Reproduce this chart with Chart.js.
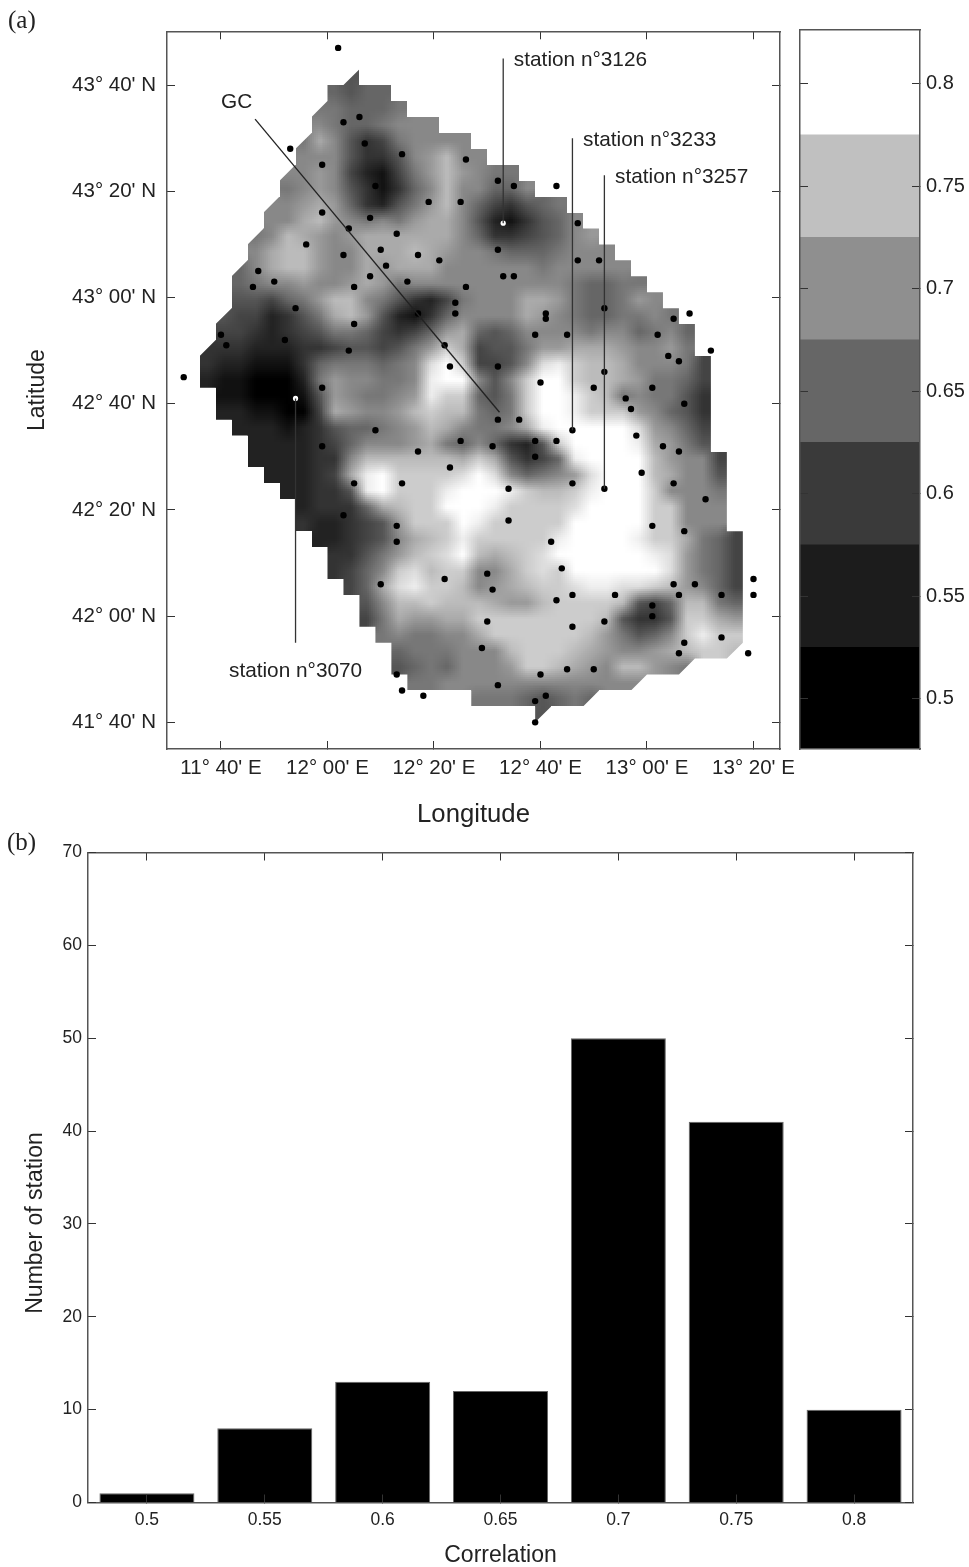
<!DOCTYPE html>
<html>
<head>
<meta charset="utf-8">
<title>Correlation map and histogram</title>
<script src="https://cdn.jsdelivr.net/npm/chart.js@4/dist/chart.umd.min.js"></script>
<style>
  body { margin: 0; background: #fff; width: 969px; height: 1567px; position: relative; overflow: hidden; }
  canvas { position: absolute; }
  .panel { position: absolute; font: 25px "Liberation Serif", serif; color: #222; }
</style>
</head>
<body>
<canvas id="mapChart" width="969" height="830" style="left:0;top:0"></canvas>
<canvas id="barChart" width="969" height="739" style="left:0;top:828px"></canvas>
<canvas id="scaleChart" width="189" height="830" style="left:780px;top:0"></canvas>
<div class="panel" style="left:8px;top:6px">(a)</div>
<div class="panel" style="left:7px;top:828px">(b)</div>
<script>
// Map axes are in arc minutes counted from 11 40 E and 41 40 N
const lonTicks = [0, 20, 40, 60, 80, 100];
const lonLabels = ["11° 40' E", "12° 00' E", "12° 20' E", "12° 40' E", "13° 00' E", "13° 20' E"];
const latTicks = [0, 20, 40, 60, 80, 100, 120];
const latLabels = ["41° 40' N", "42° 00' N", "42° 20' N", "42° 40' N", "43° 00' N", "43° 20' N", "43° 40' N"];

// Shaded map, 3 minute cells, one hex digit of grey per cell, first column of each row in gridStart
const gridStart = [9,8,7,7,6,6,5,5,4,4,3,3,2,2,2,1,1,0,0,0,1,1,2,3,3,4,5,6,6,7,8,8,9,10,10,11,12,12,13,17,21];
const gridRows = [
  "5",
  "6566",
  "776667",
  "87667888",
  "7a853478888",
  "888533589b88",
  "8898421479b9877",
  "7898531368b88668",
  "889a9632579b8643567",
  "88ab987879aa85213568",
  "78ba989aaaaaa863345689",
  "8abb988aaaba98876667888",
  "68abb988a9aaa888888788888",
  "67889889a97888888888876677",
  "554679bb8753247888aa9766798",
  "5442357ab9521368888a987667787",
  "443234577643469a65688887886786",
  "333222334554579ca455799aaa98897",
  "32211136777678dfc4458decbba88874",
  "21100027988778eff858cffcbba97764",
  "1100015987789ecc657cffecb787753",
  "2211004a9889bcbb767cffeccc98653",
  "222123566789ba8778aefffffd9864",
  "22223468889a7686325cffffea975",
  "2222338bbbbbbaca5346effffb9884",
  "22234aefccccdfd86789dfffba885",
  "22335efcccefffecbbcefffc8887",
  "23336abccfffeccccdffffcc888",
  "3223459cccfecccccfffffcc888",
  "223458abceccccceffffecca764",
  "33579bcdfbabcdffffffed9764",
  "3468cdbcc88acdcffffffd9764",
  "46adeccb89abccdeeddcb9864",
  "58bbcbbba99bccccb546bb76",
  "47a99aaccccccccb5335cca9",
  "787788accccccb97568cecc",
  "6777888bcccba9889abccb",
  "56768889ccba98bb987",
  "778888888888888",
  "77765676",
  "5"
];
const cutUpperLeft = [[0,9],[2,7],[4,6],[6,5],[8,4],[10,3],[12,2],[15,1],[17,0]];
const cutLowerRight = [[36,33],[37,30],[38,27],[39,24],[40,21]];

// Stations
const stationLon = [22,23,26,13,27,34,46,19,29,39,45,19,28,24,33,16,30,23,37,41,31,7,28,10,35,6,25,46,44,14,44,37,25,0,1,12,42,24,43,-7,19,
  52,55,63,67,52,67,71,53,55,61,61,72,85,88,59,65,82,92,84,86,52,72,60,70,81,
  29,45,19,37,43,25,34,23,33,33,30,42,33,34,38,
  76,87,77,52,56,66,78,51,59,63,83,86,59,79,66,85,54,72,91,54,81,87,62,64,50,51,100,85,89,63,66,74,86,94,100,81,81,50,66,72,94,87,49,86,99,60,65,70,52,61,59,59];
const stationLat = [127,113,114,108,109,107,106,105,101,98,98,96,95,93,92,90,89,88,88,87,86,85,84,83,83,82,82,82,79,78,77,77,75,73,71,72,71,70,67,65,63,
  102,101,101,94,89,87,87,84,84,77,76,78,76,77,73,73,73,70,69,68,67,66,64,63,63,
  55,53,52,51,48,45,45,39,37,34,26,27,9,6,5,
  61,60,59,57,57,55,54,52,53,53,52,51,50,47,45,45,44,44,42,38,37,36,34,29,28,25,27,26,26,23,24,24,24,24,24,22,20,19,18,19,16,15,14,13,13,9,10,10,7,5,4,0];
const markedLon = [53, 14];
const markedLat = [94, 61];

const stationLineLon = [[53,53],[66,66],[72,72],[14,14]];
const stationLineLat = [[125,94],[110,55],[103,44],[61,15]];
const gcLon = [6.4, 52.3];
const gcLat = [113.6, 58.4];
const mapTexts = ["station n°3126", "station n°3233", "station n°3257", "station n°3070", "GC"];
const mapTextLon = [55, 68, 74, 1.5, 0];
const mapTextLat = [124.7, 109.7, 102.7, 9.6, 116.8];

// Colour scale
const bandLow = [0.475, 0.525, 0.575, 0.625, 0.675, 0.725, 0.775];
const bandHigh = [0.525, 0.575, 0.625, 0.675, 0.725, 0.775, 0.826];
const bandColors = ['#000000', '#1c1c1c', '#3a3a3a', '#666666', '#8f8f8f', '#c0c0c0', '#ffffff'];
const scaleTicks = [0.5, 0.55, 0.6, 0.65, 0.7, 0.75, 0.8];

// Histogram
const categories = ['0.5', '0.55', '0.6', '0.65', '0.7', '0.75', '0.8'];
const stationCounts = [1, 8, 13, 12, 50, 41, 10];

const FONT = '"Liberation Sans", Arial, sans-serif';
const FRAME = '#555';
const TICK = '#333';
const INK = '#222';
Chart.defaults.font.family = FONT;
Chart.defaults.color = INK;
Chart.defaults.animation = false;

function grid() {
  return { drawOnChartArea: false, tickLength: -8, color: TICK, lineWidth: 1, z: 1 };
}
function border() {
  return { color: FRAME, width: 1.5, z: 1 };
}
function setTicks(values) {
  return s => { s.ticks = values.map(v => ({ value: v })); };
}

// cells go in a dataset, the plugin below paints them through the scales
const mapCells = [];
gridRows.forEach((row, r) => {
  [...row].forEach((d, k) => {
    mapCells.push({ x: -4 + 3 * (gridStart[r] + k) + 1.5, y: 123 - 3 * r - 1.5, v: parseInt(d, 16) * 17, r: r, c: gridStart[r] + k });
  });
});

const shadedCells = {
  id: 'shadedCells',
  beforeDatasetsDraw(chart) {
    const { ctx, scales: { x, y } } = chart;
    const cells = chart.data.datasets[0].data;
    const look = {};
    cells.forEach(p => { look[p.r + '_' + p.c] = p.v; });
    const isCut = (list, r, c) => list.some(q => q[0] === r && q[1] === c);

    ctx.save();
    ctx.beginPath();
    cells.forEach(p => {
      const x0 = x.getPixelForValue(p.x - 1.5), x1 = x.getPixelForValue(p.x + 1.5);
      const y0 = y.getPixelForValue(p.y + 1.5), y1 = y.getPixelForValue(p.y - 1.5);
      if (isCut(cutUpperLeft, p.r, p.c)) {
        ctx.moveTo(x1, y0); ctx.lineTo(x1, y1); ctx.lineTo(x0, y1);
      } else if (isCut(cutLowerRight, p.r, p.c)) {
        ctx.moveTo(x0, y0); ctx.lineTo(x1, y0); ctx.lineTo(x0, y1);
      } else {
        ctx.moveTo(x0, y0); ctx.lineTo(x1, y0); ctx.lineTo(x1, y1); ctx.lineTo(x0, y1);
      }
      ctx.closePath();
    });
    ctx.clip();

    // interp style shading between cell centres
    const N = 8;
    cells.forEach(p => {
      for (let a = 0; a < N; a++) {
        for (let b = 0; b < N; b++) {
          const u = p.c + (b + 0.5) / N - 0.5, w = p.r + (a + 0.5) / N - 0.5;
          const c0 = Math.floor(u), r0 = Math.floor(w);
          let sum = 0, wt = 0;
          [[r0, c0, (1 - (w - r0)) * (1 - (u - c0))], [r0, c0 + 1, (1 - (w - r0)) * (u - c0)],
           [r0 + 1, c0, (w - r0) * (1 - (u - c0))], [r0 + 1, c0 + 1, (w - r0) * (u - c0)]].forEach(q => {
            const v = look[q[0] + '_' + q[1]];
            if (v !== undefined) { sum += v * q[2]; wt += q[2]; }
          });
          const g = Math.round(wt ? sum / wt : p.v);
          const sx0 = Math.round(x.getPixelForValue(p.x - 1.5 + 3 * b / N));
          const sx1 = Math.round(x.getPixelForValue(p.x - 1.5 + 3 * (b + 1) / N));
          const sy0 = Math.round(y.getPixelForValue(p.y + 1.5 - 3 * a / N));
          const sy1 = Math.round(y.getPixelForValue(p.y + 1.5 - 3 * (a + 1) / N));
          ctx.fillStyle = 'rgb(' + g + ',' + g + ',' + g + ')';
          ctx.fillRect(sx0, sy0, sx1 - sx0, sy1 - sy0);
        }
      }
    });
    ctx.restore();
  },
  afterDatasetsDraw(chart) {
    const { ctx, scales: { x, y } } = chart;
    ctx.save();
    ctx.font = '20.8px ' + FONT;
    ctx.fillStyle = INK;
    ctx.textBaseline = 'middle';
    mapTexts.forEach((t, i) => {
      ctx.fillText(t, x.getPixelForValue(mapTextLon[i]), y.getPixelForValue(mapTextLat[i]));
    });
    ctx.restore();
  }
};

// the histogram's y title sits below the middle of its axis in the original
const offCentreTitle = {
  id: 'offCentreTitle',
  afterDraw(chart) {
    const { ctx, scales: { y } } = chart;
    ctx.save();
    ctx.translate(36, y.getPixelForValue(30.1));
    ctx.rotate(-Math.PI / 2);
    ctx.font = '23px ' + FONT;
    ctx.fillStyle = INK;
    ctx.textAlign = 'center';
    ctx.textBaseline = 'middle';
    ctx.fillText('Number of station', 0, 0);
    ctx.restore();
  }
};

const lineSets = stationLineLon.map((lon, i) => ({
  type: 'scatter',
  data: lon.map((v, k) => ({ x: v, y: stationLineLat[i][k] })),
  showLine: true, borderColor: '#333', borderWidth: 1.3, pointRadius: 0
}));

new Chart(document.getElementById('mapChart'), {
  type: 'scatter',
  plugins: [shadedCells],
  data: {
    datasets: [
      { data: mapCells, pointRadius: 0 },
      { data: gcLon.map((v, i) => ({ x: v, y: gcLat[i] })), showLine: true, borderColor: '#222', borderWidth: 1.3, pointRadius: 0 },
      ...lineSets,
      { data: stationLon.map((v, i) => ({ x: v, y: stationLat[i] })), pointRadius: 3.2, backgroundColor: '#000', borderWidth: 0 },
      { data: markedLon.map((v, i) => ({ x: v, y: markedLat[i] })), pointRadius: 2.6, backgroundColor: '#fff', borderWidth: 0 }
    ]
  },
  options: {
    responsive: false,
    devicePixelRatio: 1,
    layout: { padding: { top: 30, right: 189, left: 0, bottom: 0 } },
    plugins: { legend: { display: false }, tooltip: { enabled: false } },
    scales: {
      x: {
        type: 'linear', position: 'bottom', min: -10.14, max: 104.98,
        afterBuildTicks: setTicks(lonTicks),
        afterFit: s => { s.height = 81; },
        grid: grid(), border: border(),
        ticks: { font: { size: 20.5 }, padding: 15, autoSkip: false, maxRotation: 0, color: INK, callback: (v, i) => lonLabels[i] },
        title: { display: true, text: 'Longitude', font: { size: 25.7 }, color: INK, padding: { top: 0, bottom: 0 } }
      },
      y: {
        type: 'linear', position: 'left', min: -5.02, max: 130.13,
        afterBuildTicks: setTicks(latTicks),
        afterFit: s => { s.width = 167; },
        grid: grid(), border: border(),
        ticks: { font: { size: 20.5 }, padding: 19, autoSkip: false, color: INK, callback: (v, i) => latLabels[i] },
        title: { display: true, text: 'Latitude', font: { size: 23 }, color: INK, padding: { top: 24, bottom: 0 } }
      },
      x2: {
        type: 'linear', position: 'top', min: -10.14, max: 104.98,
        afterBuildTicks: setTicks(lonTicks),
        afterFit: s => { s.height = 0; },
        grid: grid(), border: border(), ticks: { display: false }
      },
      y2: {
        type: 'linear', position: 'right', min: -5.02, max: 130.13,
        afterBuildTicks: setTicks(latTicks),
        afterFit: s => { s.width = 0; },
        grid: grid(), border: border(), ticks: { display: false }
      }
    }
  }
});

// Colour scale, one floating bar per band
new Chart(document.getElementById('scaleChart'), {
  type: 'bar',
  data: {
    labels: [''],
    datasets: bandLow.map((lo, i) => ({
      data: [[lo, bandHigh[i]]],
      backgroundColor: bandColors[i], borderWidth: 0,
      barPercentage: 1, categoryPercentage: 1, grouped: false
    }))
  },
  options: {
    responsive: false,
    devicePixelRatio: 1,
    layout: { padding: { top: 30, left: 20, right: 0, bottom: 0 } },
    plugins: { legend: { display: false }, tooltip: { enabled: false } },
    scales: {
      x: {
        position: 'bottom',
        afterFit: s => { s.height = 81; },
        grid: { display: false }, border: border(), ticks: { display: false }
      },
      x2: {
        type: 'category', labels: [''], position: 'top',
        afterFit: s => { s.height = 0; },
        grid: { display: false }, border: border(), ticks: { display: false }
      },
      y: {
        type: 'linear', position: 'right', min: 0.4754, max: 0.8261,
        afterBuildTicks: setTicks(scaleTicks),
        afterFit: s => { s.width = 49; },
        grid: grid(), border: border(),
        ticks: { font: { size: 20 }, padding: 14, autoSkip: false, color: INK, callback: v => String(v) }
      },
      y2: {
        type: 'linear', position: 'left', min: 0.4754, max: 0.8261,
        afterBuildTicks: setTicks(scaleTicks),
        afterFit: s => { s.width = 0; },
        grid: grid(), border: border(), ticks: { display: false }
      }
    }
  }
});

// Histogram
new Chart(document.getElementById('barChart'), {
  type: 'bar',
  plugins: [offCentreTitle],
  data: {
    labels: categories,
    datasets: [{
      data: stationCounts,
      backgroundColor: '#000', borderColor: '#666', borderWidth: 1,
      barPercentage: 0.806, categoryPercentage: 1
    }]
  },
  options: {
    responsive: false,
    devicePixelRatio: 1,
    layout: { padding: { top: 12, right: 56, left: 0, bottom: 0 } },
    plugins: { legend: { display: false }, tooltip: { enabled: false } },
    scales: {
      x: {
        position: 'bottom',
        afterFit: s => { s.height = 64.5; },
        grid: { drawOnChartArea: false, tickLength: -8, color: TICK, offset: false, z: 1 }, border: border(),
        ticks: { font: { size: 17.5 }, padding: 15, maxRotation: 0, color: INK },
        title: { display: true, text: 'Correlation', font: { size: 23, lineHeight: 1 }, color: INK, padding: { top: 0, bottom: 0 } }
      },
      x2: {
        type: 'category', labels: categories, position: 'top',
        afterFit: s => { s.height = 0; },
        grid: { drawOnChartArea: false, tickLength: -8, color: TICK, offset: false, z: 1 }, border: border(),
        ticks: { display: false }
      },
      y: {
        type: 'linear', position: 'left', min: 0, max: 70,
        afterFit: s => { s.width = 88; },
        grid: grid(), border: border(),
        ticks: { font: { size: 17.5 }, padding: 14, stepSize: 10, color: INK }
      },
      y2: {
        type: 'linear', position: 'right', min: 0, max: 70,
        afterFit: s => { s.width = 0; },
        grid: grid(), border: border(),
        ticks: { display: false, stepSize: 10 }
      }
    }
  }
});
</script>
</body>
</html>
